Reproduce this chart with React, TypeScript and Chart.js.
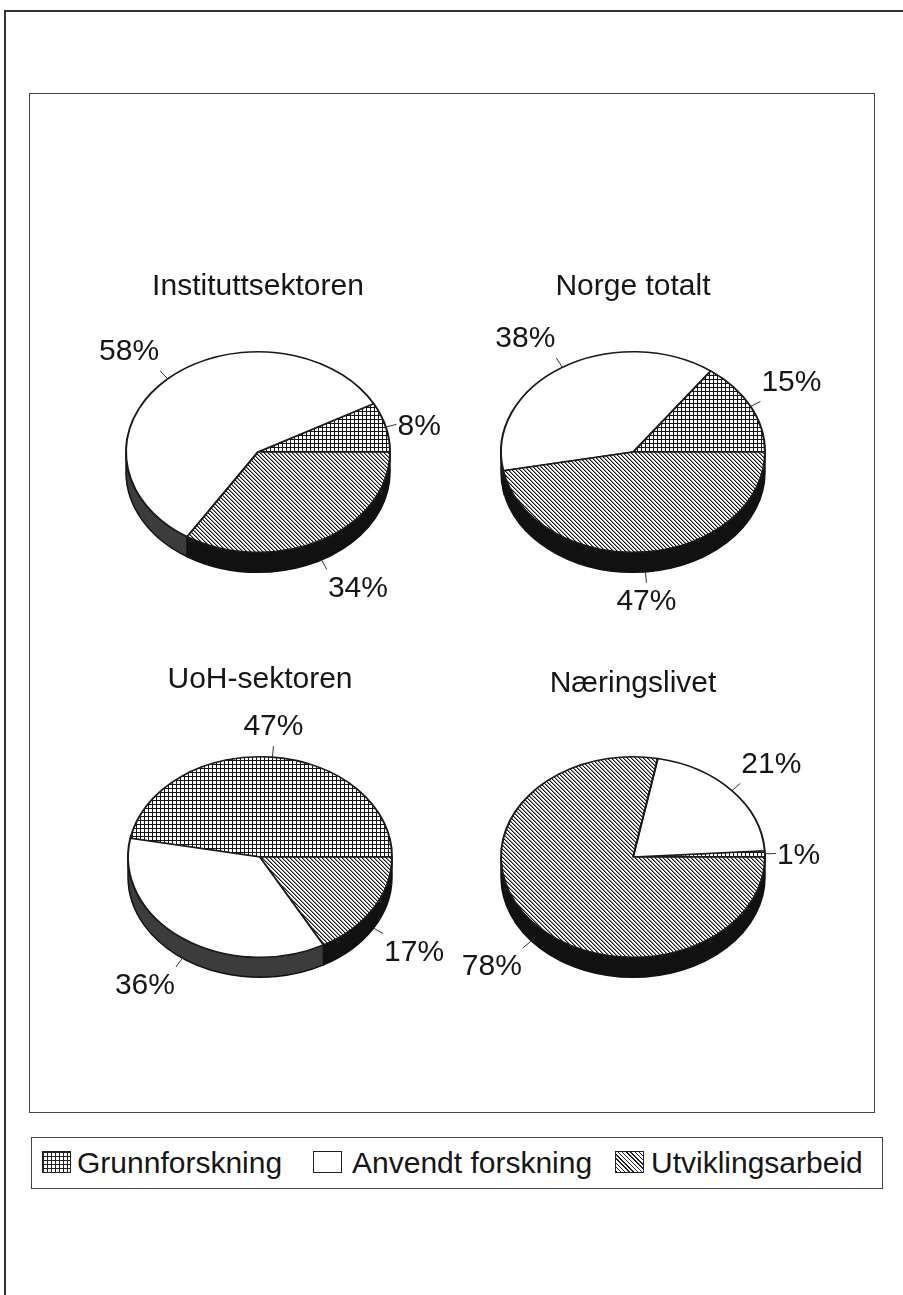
import React, { useEffect, useRef } from 'react';
import { Chart, registerables } from 'chart.js';

Chart.register(...registerables);

// ---- data ----
const categories = ['Grunnforskning', 'Anvendt forskning', 'Utviklingsarbeid'];
const sectorTitles = ['Instituttsektoren', 'Norge totalt', 'UoH-sektoren', 'Næringslivet'];
const instituttValues = [8, 58, 34];
const norgeValues = [15, 38, 47];
const uohValues = [47, 36, 17];
const naeringValues = [1, 21, 78];

// ---- style / layout ----
const FONT = '"Liberation Sans", Arial, Helvetica, sans-serif';
const TEXT = '#161616';
const SQUASH = 0.76;
const DEPTH = 20;
const BORDER = 2;
const SIZE = 266; // chart area -> radius 132
const W = 400;
const H = 400;
const LEADER = 11;
const SIDE_COLORS = ['#2e2e2e', '#3c3c3c', '#111111'];

const pieLayout = [
  { cx: 258, cy: 452, titleY: 287 },
  { cx: 633, cy: 452, titleY: 287 },
  { cx: 260, cy: 857, titleY: 680 },
  { cx: 633, cy: 857, titleY: 684 },
];

function makeGrid(ctx: CanvasRenderingContext2D) {
  const t = document.createElement('canvas');
  t.width = 4; t.height = 4;
  const c = t.getContext('2d')!;
  c.fillStyle = '#fff'; c.fillRect(0, 0, 4, 4);
  c.fillStyle = '#151515';
  c.fillRect(0, 0, 4, 1);
  c.fillRect(0, 0, 1, 4);
  return ctx.createPattern(t, 'repeat')!;
}

function makeDiag(ctx: CanvasRenderingContext2D) {
  const t = document.createElement('canvas');
  t.width = 4; t.height = 4;
  const c = t.getContext('2d')!;
  c.fillStyle = '#fff'; c.fillRect(0, 0, 4, 4);
  for (let i = 0; i < 4; i++) {
    c.fillStyle = '#151515';
    c.fillRect(i, i, 1, 1);
    c.fillStyle = '#909090';
    c.fillRect((i + 1) % 4, i, 1, 1);
  }
  return ctx.createPattern(t, 'repeat')!;
}

function makePie3d(values: number[], patterns: CanvasPattern[]) {
  return {
    id: 'pie3d',
    beforeDatasetsDraw(chart: any) {
      const ctx: CanvasRenderingContext2D = chart.ctx;
      const arcs = chart.getDatasetMeta(0).data;
      if (!arcs.length) return;
      const { x: cx, y: cy, outerRadius: R } = arcs[0].getProps(['x', 'y', 'outerRadius'], true);
      const ry = R * SQUASH;
      // side walls (front, lower half)
      arcs.forEach((arc: any, i: number) => {
        const { startAngle, endAngle } = arc.getProps(['startAngle', 'endAngle'], true);
        const s = Math.max(startAngle, Math.PI);
        const e = Math.min(endAngle, 2 * Math.PI);
        if (e - s <= 1e-6) return;
        ctx.beginPath();
        ctx.ellipse(cx, cy, R, ry, 0, -s, -e, true);
        ctx.ellipse(cx, cy + DEPTH, R, ry, 0, -e, -s, false);
        ctx.closePath();
        ctx.fillStyle = SIDE_COLORS[i];
        ctx.fill();
        ctx.lineWidth = 1.5;
        ctx.strokeStyle = '#111';
        ctx.stroke();
      });
      patterns.forEach((p) => {
        p.setTransform(new DOMMatrix([1, 0, 0, -1 / SQUASH, 0, cy + cy / SQUASH]));
      });
      ctx.save();
      ctx.translate(cx, cy);
      ctx.scale(1, -SQUASH);
      ctx.translate(-cx, -cy);
    },
    afterDatasetsDraw(chart: any) {
      const ctx: CanvasRenderingContext2D = chart.ctx;
      ctx.restore();
      const arcs = chart.getDatasetMeta(0).data;
      if (!arcs.length) return;
      const { x: cx, y: cy, outerRadius: R } = arcs[0].getProps(['x', 'y', 'outerRadius'], true);
      const ry = R * SQUASH;
      ctx.save();
      ctx.font = `30px ${FONT}`;
      ctx.fillStyle = TEXT;
      ctx.strokeStyle = '#333';
      ctx.lineWidth = 1;
      arcs.forEach((arc: any, i: number) => {
        const { startAngle, endAngle } = arc.getProps(['startAngle', 'endAngle'], true);
        const a = (startAngle + endAngle) / 2;
        const c = Math.cos(a);
        const s = Math.sin(a);
        const px = cx + R * c;
        const py = cy - ry * s + (s < 0 ? DEPTH : 0);
        const ex = px + c * LEADER;
        const ey = py - s * LEADER;
        ctx.beginPath();
        ctx.moveTo(px, py);
        ctx.lineTo(ex, ey);
        ctx.stroke();
        const k = Math.min(Math.max((Math.abs(s) - 0.25) / 0.2, 0), 1);
        const ty = ey - Math.sign(s) * 19 * k + (Math.abs(s) < 0.3 ? 2 : 0);
        let tx = ex;
        let align: CanvasTextAlign = 'center';
        if (c > 0.25) { align = 'left'; tx = ex + 1; }
        else if (c < -0.25) { align = 'right'; tx = ex - 1; }
        ctx.textAlign = align;
        ctx.textBaseline = 'middle';
        ctx.fillText(`${values[i]}%`, tx, ty);
      });
      ctx.restore();
    },
  };
}

type PieProps = { title: string; values: number[]; cx: number; cy: number; titleY: number };

function Pie3D({ title, values, cx, cy, titleY }: PieProps) {
  const ref = useRef<HTMLCanvasElement>(null);
  const top = titleY - 40;
  useEffect(() => {
    const canvas = ref.current!;
    const ctx = canvas.getContext('2d')!;
    const grid = makeGrid(ctx);
    const diag = makeDiag(ctx);
    const areaTop = cy - SIZE / 2 - top;
    const q = areaTop - 58;
    const chart = new Chart(canvas, {
      type: 'pie',
      data: {
        labels: categories,
        datasets: [
          {
            data: values,
            backgroundColor: [grid, '#ffffff', diag],
            borderColor: '#1a1a1a',
            borderWidth: BORDER,
            hoverBorderWidth: BORDER,
            hoverOffset: 0,
            offset: 0,
            clip: false,
          } as any,
        ],
      },
      options: {
        responsive: false,
        animation: false,
        events: [],
        rotation: 90,
        layout: { padding: { left: (W - SIZE) / 2, right: (W - SIZE) / 2, top: 0, bottom: H - areaTop - SIZE } },
        plugins: {
          legend: { display: false },
          tooltip: { enabled: false },
          title: {
            display: true,
            text: title,
            color: TEXT,
            font: { family: FONT, size: 30, weight: 'normal', lineHeight: 1.2 },
            padding: { top: 22, bottom: q },
          },
        },
      } as any,
      plugins: [makePie3d(values, [grid, diag]) as any],
    });
    return () => chart.destroy();
  }, [title, values, cx, cy, titleY]);
  return (
    <canvas
      ref={ref}
      width={W}
      height={H}
      style={{ position: 'absolute', left: cx - W / 2, top, width: W, height: H }}
    />
  );
}

const legendSwatch: React.CSSProperties = {
  position: 'absolute',
  top: 1151,
  width: 29,
  height: 22,
  boxSizing: 'border-box',
  border: '1.5px solid #222',
  background: '#fff',
};
const legendText: React.CSSProperties = {
  position: 'absolute',
  top: 1148,
  fontSize: 30,
  lineHeight: '30px',
  color: TEXT,
  whiteSpace: 'nowrap',
};

export default function App() {
  useEffect(() => {
    document.body.style.margin = '0';
  }, []);
  const allValues = [instituttValues, norgeValues, uohValues, naeringValues];
  return (
    <div
      style={{
        position: 'absolute',
        left: 0,
        top: 0,
        width: 903,
        height: 1295,
        overflow: 'hidden',
        background: '#fff',
        fontFamily: FONT,
      }}
    >
      <div
        style={{
          position: 'absolute',
          left: 4,
          top: 10,
          width: 910,
          height: 1300,
          borderTop: '2px solid #333',
          borderLeft: '2px solid #333',
        }}
      />
      <div
        style={{
          position: 'absolute',
          left: 29,
          top: 93,
          width: 846,
          height: 1020,
          boxSizing: 'border-box',
          border: '1px solid #444',
        }}
      />
      {pieLayout.map((p, i) => (
        <Pie3D key={i} title={sectorTitles[i]} values={allValues[i]} cx={p.cx} cy={p.cy} titleY={p.titleY} />
      ))}
      <div
        style={{
          position: 'absolute',
          left: 31,
          top: 1137,
          width: 852,
          height: 52,
          boxSizing: 'border-box',
          border: '1px solid #444',
        }}
      />
      <div
        style={{
          ...legendSwatch,
          left: 42,
          backgroundImage:
            'linear-gradient(#222 1px, transparent 1px), linear-gradient(90deg, #222 1px, transparent 1px)',
          backgroundSize: '4px 4px',
        }}
      />
      <div style={{ ...legendText, left: 77 }}>{categories[0]}</div>
      <div style={{ ...legendSwatch, left: 313 }} />
      <div style={{ ...legendText, left: 352 }}>{categories[1]}</div>
      <div
        style={{
          ...legendSwatch,
          left: 615,
          backgroundImage: 'repeating-linear-gradient(45deg, #222 0px, #222 1px, #fff 1px, #fff 3px)',
        }}
      />
      <div style={{ ...legendText, left: 651 }}>{categories[2]}</div>
    </div>
  );
}
